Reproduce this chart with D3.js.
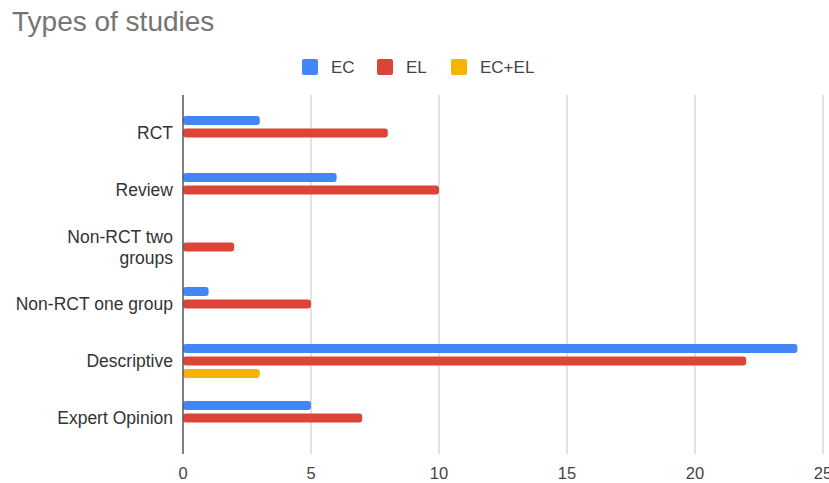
<!DOCTYPE html>
<html>
<head>
<meta charset="utf-8">
<script src="https://cdnjs.cloudflare.com/ajax/libs/d3/7.8.5/d3.min.js"></script>
<style>
  body { margin: 0; background: #fff; }
  svg { font-family: "Liberation Sans", Arial, sans-serif; }
</style>
</head>
<body>
<div id="chart"></div>
<script>
var width = 829, height = 483;

// data
var categories = ["RCT", "Review", "Non-RCT two groups", "Non-RCT one group", "Descriptive", "Expert Opinion"];
var series = ["EC", "EL", "EC+EL"];
var ecValues = [3, 6, 0, 1, 24, 5];
var elValues = [8, 10, 2, 5, 22, 7];
var ecelValues = [0, 0, 0, 0, 3, 0];
var xTicks = [0, 5, 10, 15, 20, 25];
var colors = ["#4285f4", "#db4437", "#f4b400"];

var rows = categories.map(function(c, i) {
  return {cat: c, vals: [
    {name: "EC", v: ecValues[i]},
    {name: "EL", v: elValues[i]},
    {name: "EC+EL", v: ecelValues[i]}
  ]};
});

var svg = d3.select("#chart").append("svg")
  .attr("width", width)
  .attr("height", height);

var x = d3.scaleLinear().domain([0, 25]).range([183, 823]);
var y = d3.scaleBand().domain(categories).range([104.5, 446.5]);
var ySub = d3.scaleBand().domain(series).range([0, 34]).paddingInner(0.28);
var color = d3.scaleOrdinal().domain(series).range(colors);

// title
svg.append("text")
  .attr("x", 12)
  .attr("y", 31)
  .style("font-size", "28px")
  .style("fill", "#757575")
  .text("Types of studies");

// gridlines
svg.append("g")
  .selectAll("line")
  .data(xTicks.slice(1))
  .join("line")
  .attr("x1", function(d) { return x(d); })
  .attr("x2", function(d) { return x(d); })
  .attr("y1", 95)
  .attr("y2", 454)
  .attr("stroke", "#d9d9d9")
  .attr("stroke-width", 1.5);

// x tick labels (the last one runs off the edge, as in the original)
svg.append("g")
  .selectAll("text")
  .data(xTicks)
  .join("text")
  .attr("x", function(d) { return x(d); })
  .attr("y", 479)
  .attr("text-anchor", "middle")
  .style("font-size", "16.5px")
  .style("fill", "#444")
  .text(function(d) { return d; });

// bars
var group = svg.append("g")
  .selectAll("g")
  .data(rows)
  .join("g")
  .attr("transform", function(d) { return "translate(0," + (y(d.cat) + y.bandwidth() / 2 - 17) + ")"; });

group.selectAll("rect")
  .data(function(d) { return d.vals.filter(function(e) { return e.v > 0; }); })
  .join("rect")
  .attr("x", x(0))
  .attr("y", function(d) { return ySub(d.name); })
  .attr("width", function(d) { return x(d.v) - x(0); })
  .attr("height", ySub.bandwidth())
  .attr("rx", 3)
  .attr("fill", function(d) { return color(d.name); });

// category labels
var labels = svg.append("g")
  .selectAll("text")
  .data(categories)
  .join("text")
  .attr("text-anchor", "end")
  .attr("x", 173)
  .attr("y", function(d) { return y(d) + y.bandwidth() / 2; })
  .style("font-size", "17.5px")
  .style("fill", "#333");

labels.each(function(d) {
  var t = d3.select(this);
  var lines = d == "Non-RCT two groups" ? ["Non-RCT two", "groups"] : [d];
  lines.forEach(function(l, i) {
    t.append("tspan")
      .attr("x", 173)
      .attr("dy", i == 0 ? (lines.length == 1 ? "0.35em" : "-0.25em") : "1.2em")
      .text(l);
  });
});

// axis baseline
svg.append("line")
  .attr("x1", x(0)).attr("x2", x(0))
  .attr("y1", 95).attr("y2", 454)
  .attr("stroke", "#555")
  .attr("stroke-width", 1.5);

// legend
var legendX = [302, 377, 451];
var legend = svg.append("g")
  .selectAll("g")
  .data(series)
  .join("g")
  .attr("transform", function(d, i) { return "translate(" + legendX[i] + ",59)"; });

legend.append("rect")
  .attr("width", 16)
  .attr("height", 16)
  .attr("rx", 2)
  .attr("fill", function(d) { return color(d); });

legend.append("text")
  .attr("x", 29)
  .attr("y", 8)
  .attr("dy", "0.35em")
  .style("font-size", "17px")
  .style("fill", "#444")
  .text(function(d) { return d; });
</script>
</body>
</html>
